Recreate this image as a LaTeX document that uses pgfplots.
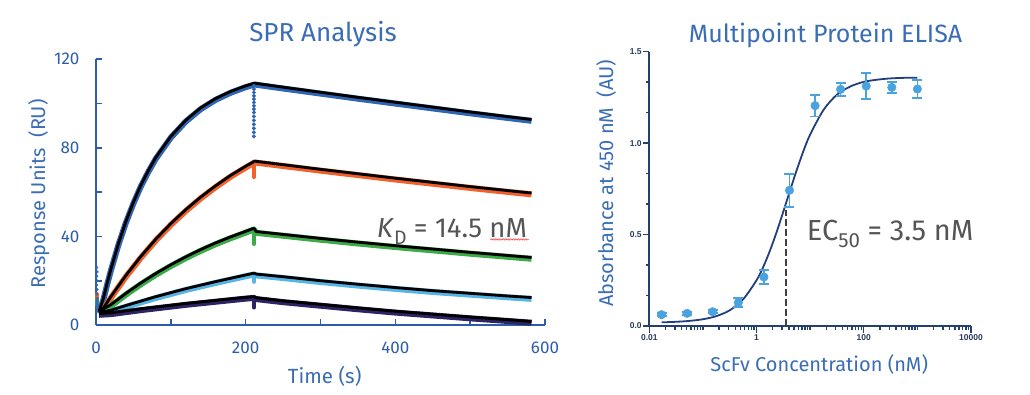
\documentclass[border=0pt]{standalone}
\usepackage{pgfplots}
\pgfplotsset{compat=1.18}
\usepackage{fontspec}
\setmainfont{Fira Sans}
\newfontfamily\tickfont{Liberation Sans}
\usetikzlibrary{decorations.pathmorphing}
\definecolor{axisblue}{HTML}{2C5DA8}
\definecolor{titleblue}{HTML}{3A6DB5}
\definecolor{navy}{HTML}{23406F}
\definecolor{navytext}{HTML}{2A3B5C}
\definecolor{curvenavy}{HTML}{203F7C}
\definecolor{ptblue}{HTML}{4AA3DF}
\definecolor{annot}{HTML}{555555}
\definecolor{dashgray}{HTML}{404040}
\definecolor{sprblue}{HTML}{2F66B3}
\definecolor{sprorange}{HTML}{F0612B}
\definecolor{sprgreen}{HTML}{3DAA48}
\definecolor{sprlight}{HTML}{55B5E6}
\definecolor{sprpurple}{HTML}{2D2463}

\pgfplotstableread{
t y
4 6
10 12.2
15 19.0
20 25.3
30 36.8
40 46.8
50 55.5
60 63.2
70 69.8
80 75.7
100 85.2
120 92.5
140 98.1
160 102.3
180 105.5
200 108.0
212 109.2
250 107.4
300 105.1
350 102.8
400 100.6
450 98.4
500 96.2
550 94.1
582 92.8
}\blueS
\pgfplotstableread{
t y
4 6
10 7.7
20 12.9
40 22.4
60 31.0
80 38.8
100 45.8
120 52.1
140 57.8
160 62.9
180 67.6
200 71.7
212 74.0
250 72.4
300 70.3
350 68.3
400 66.3
450 64.4
500 62.5
550 60.7
582 59.6
}\orangeS
\pgfplotstableread{
t y
4 6
20 9.2
40 14.3
60 19.0
80 23.3
100 27.2
120 30.8
140 34.1
160 37.1
180 39.8
200 42.3
211 43.7
214 42.2
250 40.9
300 39.1
350 37.4
400 35.8
450 34.3
500 32.8
550 31.4
582 30.5
}\greenS
\pgfplotstableread{
t y
4 5.6
20 6.7
40 8.8
60 10.8
80 12.8
100 14.6
120 16.4
140 18.0
160 19.6
180 21.1
200 22.6
211 23.4
214 23.0
250 21.8
300 20.0
350 18.4
400 16.9
450 15.5
500 14.3
550 13.1
582 12.4
}\lightS
\pgfplotstableread{
t y
4 5.2
20 5.5
40 6.4
60 7.3
80 8.1
100 8.9
120 9.7
140 10.4
160 11.1
180 11.8
200 12.5
211 12.8
214 12.3
250 10.9
300 9.3
350 7.7
400 6.2
450 4.9
500 3.6
550 2.4
582 1.6
}\purpleS

\pgfplotstableread{
x y e
0.0169 0.062 0.008
0.0508 0.069 0.008
0.152 0.078 0.008
0.457 0.128 0.026
1.372 0.268 0.039
4.115 0.742 0.090
12.35 1.205 0.060
37.04 1.294 0.036
111.1 1.312 0.071
333.3 1.305 0.030
1000 1.296 0.048
}\elisa
\pgfplotstableread{
x y
0.01698 0.020
0.03162 0.023
0.05623 0.028
0.1 0.037
0.1778 0.054
0.3162 0.086
0.5623 0.146
1 0.250
1.334 0.323
1.778 0.412
2.371 0.514
3.162 0.626
4.217 0.741
5.623 0.853
7.499 0.957
10 1.047
17.78 1.182
31.62 1.265
56.23 1.310
100 1.335
177.8 1.347
316.2 1.354
562.3 1.357
1000 1.358
}\elisafit

\begin{document}
\begin{tikzpicture}[x=1pt,y=1pt]
\useasboundingbox (0,0) rectangle (1030,394);
% ---------------- SPR ----------------
\begin{axis}[
  at={(96pt,69pt)}, anchor=south west,
  scale only axis, width=449pt, height=265.7pt,
  xmin=0, xmax=600, ymin=0, ymax=120,
  axis x line=bottom, axis y line=left,
  axis line style={-, draw=axisblue, line width=2pt},
  tick align=inside,
  xtick={0,200,400,600}, minor xtick={100,300,500},
  ytick={0,40,80,120}, minor ytick={20,60,100},
  major tick length=6pt, minor tick length=6pt,
  every tick/.style={draw=axisblue, line width=1.6pt},
  ticklabel style={font=\fontsize{17}{17}\selectfont, text=axisblue},
  /pgf/number format/assume math mode=true,
  yticklabel style={xshift=-13pt},
  xticklabel style={yshift=-13pt},
  clip=false,
]
% data (coloured) under the fits
\addplot[draw=sprblue, line width=6pt, line join=round, yshift=-1.3pt] table[x=t,y=y] {\blueS};
\addplot[draw=sprorange, line width=6pt, line join=round, yshift=-1.3pt] table[x=t,y=y] {\orangeS};
\addplot[draw=sprgreen, line width=6pt, line join=round, yshift=-1.3pt] table[x=t,y=y] {\greenS};
\addplot[draw=sprlight, line width=6pt, line join=round, yshift=-1.3pt] table[x=t,y=y] {\lightS};
\addplot[draw=sprpurple, line width=6pt, line join=round, yshift=-1.3pt] table[x=t,y=y] {\purpleS};
% injection-end spikes
\addplot[only marks, mark=*, mark size=1.8pt, color=sprblue] coordinates {
(211,85.2) (211,87.0) (211,88.8) (211,90.6) (211,92.4) (211,94.2) (211,96.0) (211,97.5)
(211,99.0) (211,100.5) (211,102.0) (211,103.5) (211,105.0) (211,106.5) (211,108.0)};
\addplot[draw=sprorange, line width=4pt, line cap=round] coordinates {(211,66.8) (211,73)};
\addplot[draw=sprgreen, line width=4pt, line cap=round] coordinates {(211,36.6) (211,43)};
\addplot[draw=sprlight, line width=4pt, line cap=round] coordinates {(211,19.5) (211,22.5)};
\addplot[draw=sprpurple, line width=4pt, line cap=round] coordinates {(211,7.9) (211,12)};
% start scatter
\addplot[only marks, mark=*, mark size=1.3pt, color=sprblue] coordinates {
(1,8) (1,10) (1.5,12) (1,14) (1.5,16) (1,18) (1.5,20) (1,22) (1.5,24) (1,26) (2,9) (2,11)};
\addplot[draw=sprorange, line width=4pt, line cap=round] coordinates {(1,11.5) (1,14)};
\addplot[draw=sprgreen, line width=4pt, line cap=round] coordinates {(1,9.5) (1,11.5)};
% fits
\addplot[draw=black, line width=2.8pt, line join=round] table[x=t,y=y] {\blueS};
\addplot[draw=black, line width=2.8pt, line join=round] table[x=t,y=y] {\orangeS};
\addplot[draw=black, line width=2.8pt, line join=round] table[x=t,y=y] {\greenS};
\addplot[draw=black, line width=2.8pt, line join=round] table[x=t,y=y] {\lightS};
\addplot[draw=black, line width=2.8pt, line join=round] table[x=t,y=y] {\purpleS};
\end{axis}

% ---------------- ELISA ----------------
\begin{axis}[
  at={(649.3pt,68pt)}, anchor=south west,
  scale only axis, width=321.7pt, height=274.3pt,
  xmode=log, xmin=0.01, xmax=10000, ymin=0, ymax=1.5,
  axis x line=bottom, axis y line=left,
  axis line style={-, draw=navy, line width=2.2pt},
  tick align=outside,
  xtick={0.01,1,100,10000}, xticklabels={0.01,1,100,10000},
  minor xtick={0.02,0.03,0.04,0.05,0.06,0.07,0.08,0.09,0.1,0.2,0.3,0.4,0.5,0.6,0.7,0.8,0.9,
    2,3,4,5,6,7,8,9,10,20,30,40,50,60,70,80,90,200,300,400,500,600,700,800,900,1000,
    2000,3000,4000,5000,6000,7000,8000,9000},
  ytick={0,0.5,1,1.5}, yticklabels={0.0,0.5,1.0,1.5},
  minor ytick={0.16667,0.33333,0.66667,0.83333,1.16667,1.33333},
  major tick length=6.5pt, minor tick length=3.5pt,
  every tick/.style={draw=navy, line width=1.4pt},
  ticklabel style={font=\tickfont\bfseries\fontsize{8.5}{8.5}\selectfont, text=navytext},
  /pgf/number format/assume math mode=true,
  yticklabel style={inner sep=1pt},
  xticklabel style={inner sep=2pt},
  clip=false,
]
\addplot[draw=dashgray, line width=2.2pt, dash pattern=on 7pt off 3pt] coordinates {(3.5,0) (3.5,0.634)};
\addplot[draw=curvenavy, line width=1.8pt, smooth] table[x=x,y=y] {\elisafit};
\addplot[only marks, mark=*, mark size=4.3pt, color=ptblue,
  error bars/.cd, y dir=both, y explicit,
  error bar style={draw=ptblue, line width=1.7pt},
  error mark options={rotate=90, mark size=5pt, line width=1.7pt, draw=ptblue}]
  table[x=x, y=y, y error=e] {\elisa};
\end{axis}

% ---------------- texts ----------------
\node[anchor=base, text=titleblue, font=\fontsize{26}{26}\selectfont, inner sep=0] at (323,352.3) {SPR Analysis};
\node[anchor=base, text=titleblue, font=\fontsize{25}{25}\selectfont, inner sep=0] at (825.5,351.3) {Multipoint Protein ELISA};
\node[anchor=base, rotate=90, text=titleblue, font=\fontsize{20}{20}\selectfont, inner sep=0] at (45,200.3) {Response Units\ \ (RU)};
\node[anchor=base, text=titleblue, font=\fontsize{20.5}{20.5}\selectfont, inner sep=0] at (324.7,10.7) {Time (s)};
\node[anchor=base, rotate=90, text=titleblue, font=\fontsize{20}{20}\selectfont, inner sep=0] at (613,210.7) {Absorbance at 450 nM\ \ (AU)};
\node[anchor=base, text=titleblue, font=\fontsize{20}{20}\selectfont, inner sep=0] at (819.2,22.3) {ScFv Concentration (nM)};
\node[anchor=base west, text=annot, font=\fontsize{27.5}{27.5}\selectfont, inner sep=0] at (376.7,156.7)
  {\textit{K}\raisebox{-0.28em}{\fontsize{19.5}{19.5}\selectfont D} = 14.5 nM};
\draw[red!75, line width=0.6pt, decorate, decoration={snake, amplitude=0.7pt, segment length=2.5pt}] (490,154.6) -- (529,154.6);
\node[anchor=base west, text=annot, font=\fontsize{29}{29}\selectfont, inner sep=0] at (806.7,153.3)
  {EC\raisebox{-0.25em}{\fontsize{20.5}{20.5}\selectfont 50} = 3.5 nM};
\end{tikzpicture}
\end{document}
